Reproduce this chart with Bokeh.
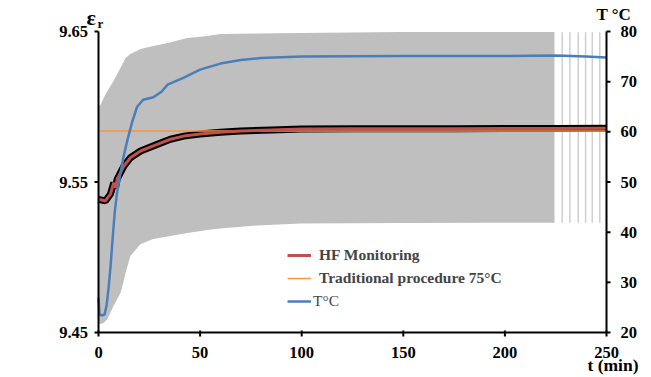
from bokeh.plotting import figure
from bokeh.models import Range1d, Legend, LegendItem
from bokeh.core.properties import value
from bokeh.embed import file_html
from bokeh.resources import INLINE

# ---------------- data ----------------
t_hf = [0, 3.4, 5.9, 7.5, 8.4, 9.2, 12.5, 15.7, 20.7, 28.9, 35.4, 42, 50, 60, 70,
        85, 100, 125, 150, 175, 200, 225, 250]
eps_hf = [9.5385, 9.5374, 9.5420, 9.5495, 9.5462, 9.5520, 9.5606, 9.5661, 9.5706,
          9.5750, 9.5784, 9.5805, 9.5819, 9.5830, 9.5839, 9.5846, 9.5852, 9.5853,
          9.5853, 9.5854, 9.5855, 9.5856, 9.5857]

t_trad = [0, 250]
eps_trad = [9.5839, 9.5839]

t_temp = [0, 0.5, 1.5, 3, 4, 5, 6, 7, 8, 9, 10, 12.3, 14, 16.6, 19, 22, 27, 31,
          34, 42, 50, 60, 70, 80, 100, 150, 200, 225, 240, 250]
temp = [27.0, 23.6, 23.4, 23.6, 25.5, 29.0, 33.5, 39.0, 44.0, 47.5, 50.0, 55.0,
        58.0, 62.0, 65.0, 66.4, 66.9, 68.0, 69.4, 70.8, 72.4, 73.6, 74.3, 74.7,
        75.0, 75.1, 75.1, 75.2, 75.0, 74.8]

t_band = [0, 1, 2.5, 4.4, 7.4, 10.8, 12.3, 13.3, 15.7, 20.7, 27, 34, 43.8, 53.6,
          60, 78, 99.4, 148.6, 190, 224.4]
band_upper = [9.6005, 9.6012, 9.6058, 9.6105, 9.6171, 9.6257, 9.6297, 9.6324,
              9.6350, 9.6384, 9.6404, 9.6424, 9.6457, 9.6470, 9.6483, 9.6487,
              9.6490, 9.6497, 9.6497, 9.6497]
band_lower = [9.4563, 9.4556, 9.4563, 9.4590, 9.4676, 9.4762, 9.4836, 9.4895,
              9.5008, 9.5088, 9.5121, 9.5138, 9.5161, 9.5181, 9.5191, 9.5211,
              9.5224, 9.5228, 9.5230, 9.5230]

t_bars = [228.2, 232.0, 236.1, 239.7, 243.0, 246.7]
bars_upper = [9.6495, 9.6495, 9.6495, 9.6495, 9.6495, 9.6495]
bars_lower = [9.5230, 9.5230, 9.5230, 9.5230, 9.5230, 9.5230]

x_ticks = [0, 50, 100, 150, 200, 250]
eps_ticks = [9.45, 9.55, 9.65]
temp_ticks = [20, 30, 40, 50, 60, 70, 80]

X0, X1 = 0, 250
E0, E1 = 9.45, 9.65
T0, T1 = 20, 80

FONT = "Liberation Serif"

# ---------------- geometry (canvas px) ----------------
W, H = 651, 377
FL, FR, FT, FB = 98, 606, 31, 332          # plot area in canvas pixels
dx = (X1 - X0) / (FR - FL)                 # data units per px
de = (E1 - E0) / (FB - FT)
dT = (T1 - T0) / (FB - FT)

p = figure(width=W, height=H, output_backend="svg", toolbar_location=None,
           x_range=Range1d(X0 - FL * dx, X1 + (W - FR) * dx),
           y_range=Range1d(E0 - (H - FB) * de, E1 + FT * de),
           x_axis_type=None, y_axis_type=None,
           min_border=0, min_border_left=0, min_border_right=0,
           min_border_top=0, min_border_bottom=0)
p.extra_y_ranges = {"T": Range1d(T0 - (H - FB) * dT, T1 + FT * dT)}
p.outline_line_color = None
p.background_fill_color = "white"
p.border_fill_color = "white"

def px(xp, yp):
    return X0 + (xp - FL) * dx, E1 - (yp - FT) * de

# ---------------- glyphs ----------------
p.varea(x=t_band, y1=band_lower, y2=band_upper, fill_color="#bfbfbf")
p.segment(x0=t_bars, y0=bars_lower, x1=t_bars, y1=bars_upper,
          line_color="#cfcfcf", line_width=1.5)
p.line(t_hf, eps_hf, line_color="black", line_width=7)
r_trad = p.line(t_trad, eps_trad, line_color="#f79646", line_width=1.5)
r_hf = p.line(t_hf, eps_hf, line_color="#c0504d", line_width=3)
r_temp = p.line(t_temp, temp, line_color="#4a7ebb", line_width=2.5, y_range_name="T")

# ---------------- hand-drawn axes ----------------
AX = dict(line_color="black", line_width=2)
TXT = dict(text_font=value(FONT), text_font_style="bold", text_font_size="16.5px",
           text_baseline="middle", text_color="black")
# left axis
p.segment(x0=[X0], y0=[E0], x1=[X0], y1=[E1], **AX)
p.segment(x0=[X0 - 4 * dx] * len(eps_ticks), y0=eps_ticks,
          x1=[X0] * len(eps_ticks), y1=eps_ticks, **AX)
p.text(x=[X0 - 10.5 * dx] * len(eps_ticks), y=eps_ticks,
       text=[f"{v:.2f}" for v in eps_ticks], text_align="right", **TXT)
# right axis
p.segment(x0=[X1], y0=[T0], x1=[X1], y1=[T1], y_range_name="T", **AX)
p.segment(x0=[X1] * len(temp_ticks), y0=temp_ticks,
          x1=[X1 + 4 * dx] * len(temp_ticks), y1=temp_ticks, y_range_name="T", **AX)
p.text(x=[X1 + 14 * dx] * len(temp_ticks), y=temp_ticks,
       text=[str(v) for v in temp_ticks], y_range_name="T", text_align="left", **TXT)
# bottom axis
p.segment(x0=[X0], y0=[E0], x1=[X1], y1=[E0], **AX)
p.segment(x0=x_ticks, y0=[E0 + 2 * de] * len(x_ticks),
          x1=x_ticks, y1=[E0 - 4 * de] * len(x_ticks), **AX)
p.text(x=x_ticks, y=[E0 - 19.5 * de] * len(x_ticks), text=[str(v) for v in x_ticks],
       text_align="center", **TXT)

# axis titles
def title(text, xp, yp, size, align="left"):
    x, y = px(xp, yp)
    p.text(x=[x], y=[y], text=[text], text_font=value(FONT), text_font_style="bold",
           text_font_size=size, text_align=align, text_baseline="middle",
           text_color="black")

title("ε", 86, 16.6, "22px")
title("r", 97, 22.6, "13px")
title("T °C", 596, 14, "17px")
title("t (min)", 638, 364, "17.5px", align="right")

# ---------------- legends ----------------
leg1 = Legend(items=[LegendItem(label="HF Monitoring", renderers=[r_hf]),
                     LegendItem(label="Traditional procedure 75°C", renderers=[r_trad])],
              location=(287, H - 288), orientation="vertical")
leg2 = Legend(items=[LegendItem(label="T°C", renderers=[r_temp])],
              location=(287, H - 311), orientation="vertical")
for lg, bold, stand in ((leg1, "bold", 8), (leg2, "normal", 2)):
    lg.label_text_font = FONT
    lg.label_text_font_style = bold
    lg.label_text_font_size = "15.5px"
    lg.label_standoff = stand
    lg.glyph_width = 24
    lg.glyph_height = 20
    lg.label_height = 20
    lg.spacing = 3
    lg.padding = 0
    lg.margin = 0
    lg.border_line_color = None
    lg.background_fill_alpha = 0
    p.add_layout(lg, "center")

open("out.html", "w").write(file_html(p, INLINE))
